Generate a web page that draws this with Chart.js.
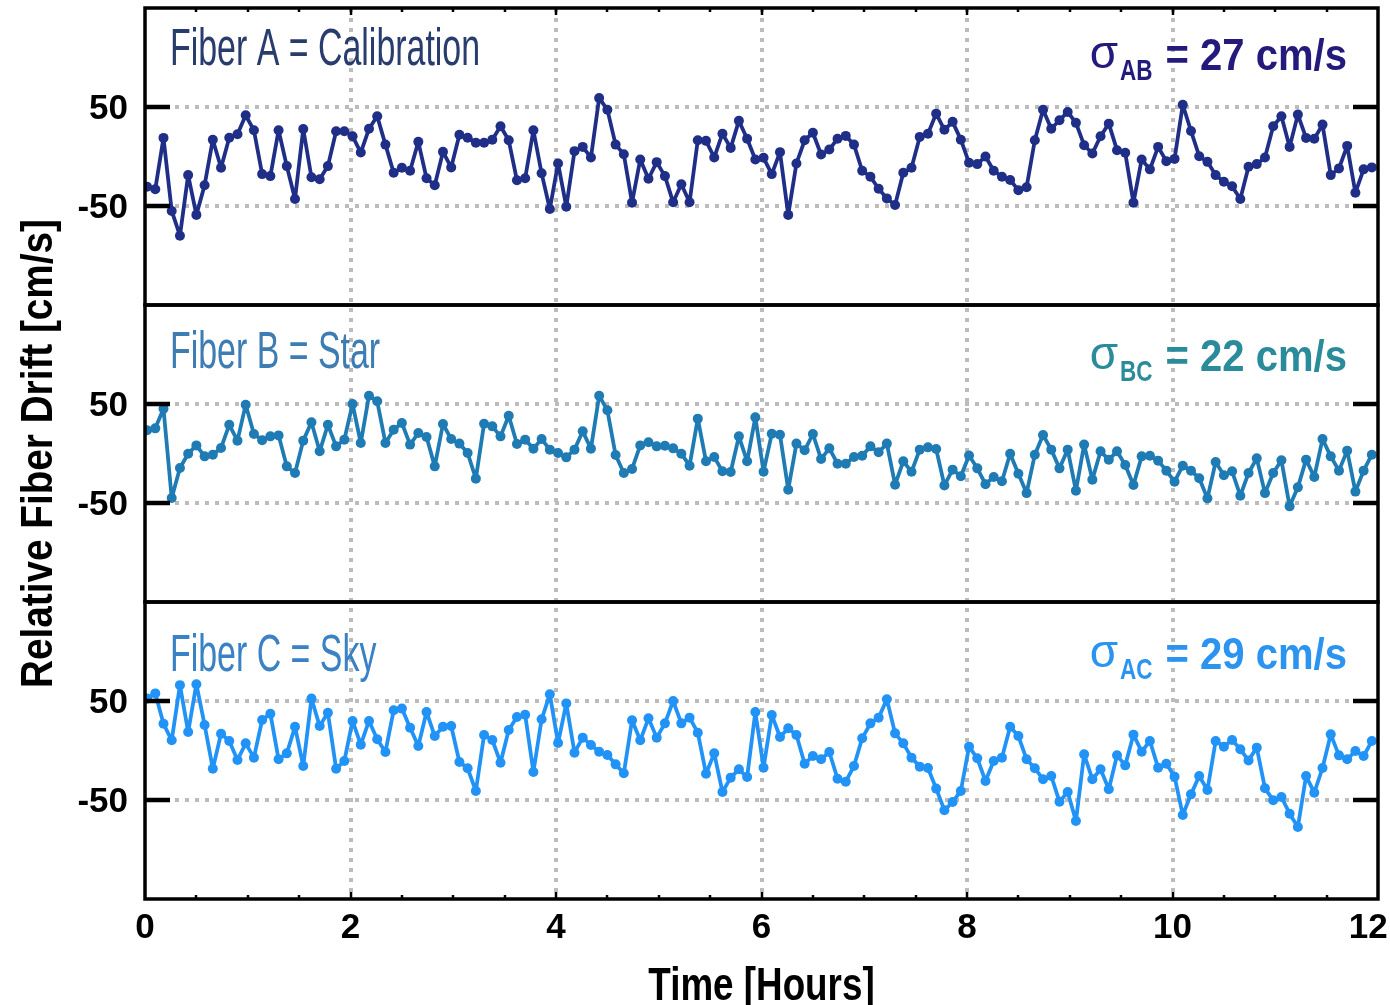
<!DOCTYPE html>
<html>
<head>
<meta charset="utf-8">
<title>Relative Fiber Drift</title>
<script src="https://cdn.jsdelivr.net/npm/chart.js@4.4.1/dist/chart.umd.min.js"></script>
<style>
  html, body { margin: 0; padding: 0; background: #ffffff; }
  #wrap { position: relative; width: 1390px; height: 1005px; }
  canvas { display: block; }
</style>
</head>
<body>
<div id="wrap"><canvas id="drift" width="1390" height="1005"></canvas></div>
<script>
// Sampling cadence of the drift measurements (hours)
const sampleStartHours = 0.02;
const sampleStepHours = 0.08;

// Relative drift of each fiber [cm/s]
const driftA = [
  -30.5, -33, 18.8, -55, -80, -18.8, -59, -29, 17, -11.4,
  19, 22.5, 41.6, 26.5, -17.8, -19.8, 26.5, -9.7, -43, 27.8,
  -21, -23, -9.7, 25.5, 25.5, 20.5, 4, 28, 40.6, 12,
  -16.4, -11.4, -14.4, 14.8, -22, -29, 4.7, -11, 22, 19,
  14, 13.8, 17, 30.5, 16.4, -24, -22, 26.5, -17, -53,
  -7, -50.7, 5.4, 9.7, -1, 59, 47.3, 12, 2.3, -46.6,
  -3, -22.5, -5.7, -19.8, -46.3, -28, -46.3, 16.4, 15.8, -1,
  23, 8.7, 36, 18, -3, -1.3, -17.8, 4.4, -59, -7,
  16.4, 24, 2, 7, 18, 20.8, 12, -14.4, -20.5, -32.6,
  -42.3, -49, -16.4, -11.4, 19.8, 23, 43.3, 27, 35, 17,
  -6.4, -7.7, 0, -14.4, -20.5, -23.8, -34, -31, 16.4, 47.3,
  28, 36.6, 45, 34, 11.4, 3, 20.5, 33.2, 6.4, 3.7,
  -46.6, -3, -13, 9.7, -4.7, -2.4, 52.3, 25.8, 0.3, -5.4,
  -18.8, -25.5, -30, -43, -10.4, -7.7, -1, 30.5, 40.6, 9.7,
  42.3, 18.8, 18, 32.2, -18.8, -12, 10.7, -36.6, -13, -11
];
const driftB = [
  23.4, 25.4, 45.3, -45, -14.6, -0.2, 8.2, -2.9, -1.2, 5.6,
  29, 13, 49.3, 19.7, 13.3, 17.3, 18.3, -13, -19.7, 13,
  31.5, 2.2, 29, 7.2, 14, 50, 10.6, 58.4, 52.7, 10.6,
  24, 30.8, 9, 20.7, 16.7, -13, 29.8, 14.6, 10, 0.5,
  -25.4, 30, 27.4, 17.3, 38.2, 9.6, 14, 4.9, 14.6, 3.9,
  0.5, -3.9, 3.9, 22.4, 4.9, 58.4, 43.6, -1.5, -19.7, -15.6,
  8.2, 11.3, 7.2, 7.9, 5.2, -0.2, -12.3, 35.2, -7.9, -3.5,
  -18, -18.7, 17.3, -7.9, 36.5, -18.4, 20, 19, -36.5, 10,
  3.2, 19.7, -5.6, 5.2, -10.3, -10.3, -3.5, -2.2, 7.2, 1.2,
  10, -31.5, -7.9, -18.4, 3.9, 6.2, 4.5, -32.2, -16.3, -23,
  -2, -15, -31, -23.7, -28, -0.2, -20.4, -40, -1.2, 18.7,
  3.9, -15, 3.9, -37.5, 9, -26.4, 2.2, -6.2, 2.2, -11.6,
  -31.8, -2.9, -2.2, -7.2, -17.3, -28.5, -12.3, -17.3, -25, -45.3,
  -8.6, -22, -18, -42.6, -19.7, -4.9, -40, -19.7, -6.9, -53.4,
  -34.2, -6.2, -23.7, 14.6, -2.9, -17.3, 2.9, -38.5, -17.3, -1.2
];
const driftC = [
  52.4, 57.7, 27, 10.3, 66, 18.7, 67, 25.8, -18.4, 17,
  9.6, -9.6, 7.2, -7.2, 30.8, 37.2, -8.9, -2.9, 24, -15.7,
  52.4, 24.7, 38.2, -18.4, -10.6, 29.8, 5.9, 29.8, 11.3, -1.5,
  40.6, 42.3, 23, 4.5, 38.9, 14.6, 24, 24.7, -11.6, -18,
  -40.9, 15.7, 10.6, -12.3, 20.7, 33.8, 36.2, -21.7, 31.5, 56.7,
  7.5, 47.6, -2.2, 13, 5.6, -1.2, -4.5, -14, -23, 30.5,
  10.3, 32.5, 13, 27.4, 50, 27.4, 33.2, 18, -23.4, -2.9,
  -42, -27.4, -19, -26.8, 38.9, -17.3, 35.9, 13.6, 22.4, 15.7,
  -13.3, -5.6, -8.9, -1.5, -28.5, -31.5, -15.7, 12.3, 27.4, 33.2,
  51.7, 17.3, 7.2, -7.2, -16.3, -17.7, -38.5, -60.4, -52, -40.9,
  3.9, -7.9, -30.8, -10.6, -7.2, 24, 14.6, -8.9, -18, -29,
  -25.8, -51.7, -42, -71.2, -3.9, -29, -19, -39.2, -4.9, -15,
  16, -1.2, 9.6, -17.3, -13.3, -26.4, -65.2, -44.3, -25.8, -39.9,
  9.6, 3.9, 10.6, 1.2, -10, 2.9, -38.2, -50.3, -47, -63.8,
  -77.3, -25.8, -42.6, -17.7, 16.3, -4.9, -8.9, -0.5, -5.6, 9.6
];

// Panel labels and scatter between fibers
const panelTitles = ['Fiber A = Calibration', 'Fiber B = Star', 'Fiber C = Sky'];
const sigmaPairs = ['AB', 'BC', 'AC'];
const sigmaValues = [27, 22, 29];

// Axis ticks and titles
const xTickValues = [0, 2, 4, 6, 8, 10, 12];
const xGridValues = [2, 4, 6, 8, 10];
const yTickValues = [-50, 50];
const xTitle = 'Time [Hours]';
const yTitle = 'Relative Fiber Drift [cm/s]';

const SANS = "'Liberation Sans', Arial, 'DejaVu Sans', sans-serif";

const panels = [
  { id: 'yA', values: driftA, line: '#1f2f87', title: panelTitles[0], titleColor: '#283d6e',
    pair: sigmaPairs[0], sigma: sigmaValues[0], sigmaColor: '#241a7c', titleDy: 57, sigmaDy: 62 },
  { id: 'yB', values: driftB, line: '#1f7bb4', title: panelTitles[1], titleColor: '#3d7db3',
    pair: sigmaPairs[1], sigma: sigmaValues[1], sigmaColor: '#2a8b9b', titleDy: 63, sigmaDy: 66 },
  { id: 'yC', values: driftC, line: '#2193f6', title: panelTitles[2], titleColor: '#3a82c4',
    pair: sigmaPairs[2], sigma: sigmaValues[2], sigmaColor: '#2b93f0', titleDy: 69, sigmaDy: 67 }
];

function seriesPoints(values) {
  return values.map((v, i) => ({ x: sampleStartHours + i * sampleStepHours, y: v }));
}

// Text squeezed horizontally to get the narrow look of the labels
function squeezedText(ctx, text, x, y, sx, align) {
  ctx.save();
  ctx.translate(x, y);
  ctx.scale(sx, 1);
  ctx.textAlign = align || 'left';
  ctx.fillText(text, 0, 0);
  ctx.restore();
}

// Frames, dotted grid, inward ticks, axis titles and panel annotations
const panelDecor = {
  id: 'panelDecor',
  beforeDatasetsDraw(chart) {
    const { ctx, chartArea, scales } = chart;
    ctx.save();
    ctx.strokeStyle = '#bcbcbc';
    ctx.lineWidth = 4;
    ctx.setLineDash([4, 6]);
    for (const v of xGridValues) {
      const px = Math.round(scales.x.getPixelForValue(v));
      ctx.beginPath();
      ctx.moveTo(px, chartArea.top);
      ctx.lineTo(px, chartArea.bottom);
      ctx.stroke();
    }
    for (const p of panels) {
      const s = scales[p.id];
      for (const v of yTickValues) {
        const py = Math.round(s.getPixelForValue(v));
        ctx.beginPath();
        ctx.moveTo(chartArea.left, py);
        ctx.lineTo(chartArea.right, py);
        ctx.stroke();
      }
    }
    ctx.restore();
  },
  afterDatasetsDraw(chart) {
    const { ctx, chartArea, scales } = chart;
    const L = chartArea.left, R = chartArea.right;
    ctx.save();
    ctx.setLineDash([]);
    ctx.strokeStyle = '#000';
    ctx.lineCap = 'butt';

    // inward major ticks at +/-50 on both sides
    ctx.lineWidth = 4.5;
    for (const p of panels) {
      const s = scales[p.id];
      for (const v of yTickValues) {
        const py = Math.round(s.getPixelForValue(v));
        ctx.beginPath();
        ctx.moveTo(L, py); ctx.lineTo(L + 25, py);
        ctx.moveTo(R - 25, py); ctx.lineTo(R, py);
        ctx.stroke();
      }
    }

    // small half-hour ticks along the top and bottom edges
    const top = chartArea.top, bottom = chartArea.bottom;
    ctx.lineWidth = 2.5;
    for (let k = 1; k < 24; k++) {
      const px = Math.round(scales.x.getPixelForValue(k * 0.5));
      const len = (k % 4 === 0) ? 7 : 4;
      ctx.beginPath();
      ctx.moveTo(px, top); ctx.lineTo(px, top + len);
      ctx.moveTo(px, bottom); ctx.lineTo(px, bottom - len);
      ctx.stroke();
    }

    // panel frames
    ctx.lineWidth = 3.5;
    for (const p of panels) {
      const s = scales[p.id];
      ctx.strokeRect(L, s.top, R - L, s.bottom - s.top);
    }

    // panel titles and scatter labels
    for (const p of panels) {
      const s = scales[p.id];

      ctx.fillStyle = p.titleColor;
      ctx.font = `51px ${SANS}`;
      ctx.textBaseline = 'alphabetic';
      squeezedText(ctx, p.title, L + 25, s.top + p.titleDy, 0.665, 'left');

      const base = s.top + p.sigmaDy;
      const rightX = R - 31;
      ctx.fillStyle = p.sigmaColor;
      ctx.font = `bold 44px ${SANS}`;
      const main = `= ${p.sigma} cm/s`;
      const mainW = ctx.measureText(main).width * 0.91;
      squeezedText(ctx, main, rightX, base, 0.91, 'right');
      ctx.font = `bold 30px ${SANS}`;
      const subRight = rightX - mainW - 13;
      const subW = ctx.measureText(p.pair).width * 0.75;
      squeezedText(ctx, p.pair, subRight, base + 10, 0.75, 'right');
      ctx.font = `46px ${SANS}`;
      squeezedText(ctx, '\u03c3', subRight - subW - 2, base - 2, 1, 'right');
    }

    // axis titles
    ctx.fillStyle = '#000';
    ctx.font = `bold 46px ${SANS}`;
    ctx.textBaseline = 'alphabetic';
    squeezedText(ctx, xTitle, (L + R) / 2, 1000, 0.8, 'center');

    const midY = (scales.yA.top + scales.yC.bottom) / 2;
    ctx.save();
    ctx.translate(52, midY);
    ctx.rotate(-Math.PI / 2);
    ctx.font = `bold 45px ${SANS}`;
    squeezedText(ctx, yTitle, 0, 0, 0.86, 'center');
    ctx.restore();

    ctx.restore();
  }
};

function noEdgePadding(s) {
  s.paddingTop = 0; s.paddingBottom = 0; s.paddingLeft = 0; s.paddingRight = 0;
}

function yScale() {
  return {
    type: 'linear',
    min: -150,
    max: 150,
    position: 'left',
    stack: 'panels',
    stackWeight: 1,
    afterBuildTicks: (s) => { s.ticks = yTickValues.map(v => ({ value: v })); },
    afterFit: (s) => { s.width = 145; noEdgePadding(s); },
    grid: { display: false, drawTicks: false },
    border: { display: false },
    ticks: {
      font: { family: SANS, weight: 'bold', size: 35 },
      color: '#000',
      padding: 17,
      labelOffset: 2,
      callback: (v) => String(v)
    }
  };
}

// Scales listed bottom panel first so that Fiber A sits on top of the stack
const scales = {
  x: {
    type: 'linear',
    min: 0,
    max: 12,
    position: 'bottom',
    afterBuildTicks: (s) => { s.ticks = xTickValues.map(v => ({ value: v })); },
    afterFit: (s) => { s.height = 106; noEdgePadding(s); },
    grid: { display: false, drawTicks: false },
    border: { display: false },
    ticks: {
      font: { family: SANS, weight: 'bold', size: 35 },
      color: '#000',
      padding: 8,
      maxRotation: 0,
      autoSkip: false,
      // the last label is nudged left so it stays inside the page
      callback: (v) => (v === 12 ? '12  ' : String(v))
    }
  },
  yC: yScale(),
  yB: yScale(),
  yA: yScale()
};

new Chart(document.getElementById('drift').getContext('2d'), {
  type: 'line',
  data: {
    datasets: panels.map(p => ({
      data: seriesPoints(p.values),
      yAxisID: p.id,
      borderColor: p.line,
      backgroundColor: p.line,
      pointBackgroundColor: p.line,
      pointBorderWidth: 0,
      pointRadius: 5,
      borderWidth: 3.8,
      borderJoinStyle: 'round',
      borderCapStyle: 'round',
      tension: 0
    }))
  },
  options: {
    responsive: false,
    animation: false,
    devicePixelRatio: 1,
    events: [],
    layout: { padding: { top: 8, right: 12, left: 0, bottom: 0 } },
    plugins: { legend: { display: false }, tooltip: { enabled: false } },
    scales: scales
  },
  plugins: [panelDecor]
});
</script>
</body>
</html>
